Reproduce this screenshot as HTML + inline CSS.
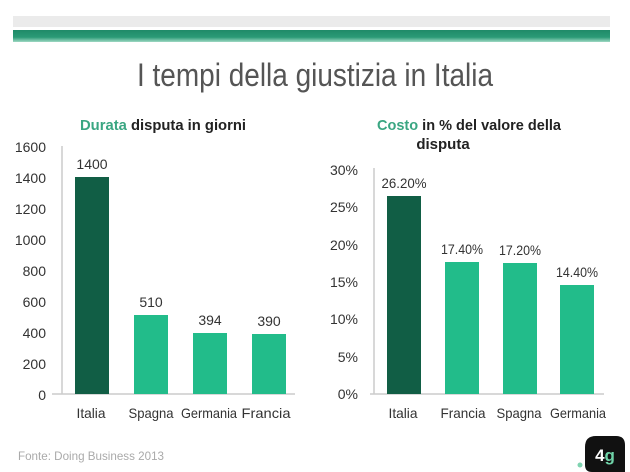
<!DOCTYPE html>
<html><head><meta charset="utf-8"><style>
html,body{margin:0;padding:0;background:#fff}
svg{display:block}
text{font-family:"Liberation Sans Narrow","Liberation Sans",sans-serif}
</style></head><body>
<svg width="630" height="472" viewBox="0 0 630 472" xmlns="http://www.w3.org/2000/svg">
<defs><linearGradient id="g" x1="0" y1="0" x2="0" y2="1"><stop offset="0" stop-color="#1f8a68"/><stop offset="0.6" stop-color="#2a9a76"/><stop offset="1" stop-color="#9fd8c3"/></linearGradient></defs>
<rect x="13" y="16" width="597" height="11" fill="#ebebeb"/>
<rect x="13" y="30" width="597" height="12" fill="url(#g)"/>
<text x="315" y="86" font-size="32" fill="#555" text-anchor="middle" textLength="356" lengthAdjust="spacingAndGlyphs">I tempi della giustizia in Italia</text>
<text x="163" y="130" font-size="15" font-weight="bold" fill="#222" text-anchor="middle" textLength="166" lengthAdjust="spacingAndGlyphs"><tspan fill="#3aa682">Durata</tspan> disputa in giorni</text>
<text x="469" y="130" font-size="15" font-weight="bold" fill="#222" text-anchor="middle" textLength="184" lengthAdjust="spacingAndGlyphs"><tspan fill="#3aa682">Costo</tspan> in % del valore della</text>
<text x="443" y="149" font-size="15" font-weight="bold" fill="#222" text-anchor="middle">disputa</text>
<g font-size="14" fill="#333" text-anchor="end">
<text x="46" y="152">1600</text><text x="46" y="183">1400</text><text x="46" y="214">1200</text><text x="46" y="245">1000</text><text x="46" y="276">800</text><text x="46" y="307">600</text><text x="46" y="338">400</text><text x="46" y="369">200</text><text x="46" y="400">0</text>
<text x="358" y="175">30%</text><text x="358" y="212">25%</text><text x="358" y="250">20%</text><text x="358" y="287">15%</text><text x="358" y="324">10%</text><text x="358" y="362">5%</text><text x="358" y="399">0%</text>
</g>
<g stroke="#ccc" stroke-width="1.5">
<line x1="62" y1="146" x2="62" y2="394"/><line x1="52" y1="394" x2="295" y2="394"/>
<line x1="374" y1="168" x2="374" y2="394"/><line x1="370" y1="394" x2="604" y2="394"/>
</g>
<rect x="75" y="177" width="34" height="217" fill="#115e45"/>
<rect x="134" y="315" width="34" height="79" fill="#22bc8a"/>
<rect x="193" y="333" width="34" height="61" fill="#22bc8a"/>
<rect x="252" y="334" width="34" height="60" fill="#22bc8a"/>
<rect x="387" y="196" width="34" height="198" fill="#115e45"/>
<rect x="445" y="262" width="34" height="132" fill="#22bc8a"/>
<rect x="503" y="263" width="34" height="131" fill="#22bc8a"/>
<rect x="560" y="285" width="34" height="109" fill="#22bc8a"/>
<g font-size="14" fill="#333" text-anchor="middle" lengthAdjust="spacingAndGlyphs">
<text x="92" y="169">1400</text><text x="151" y="307">510</text><text x="210" y="325">394</text><text x="269" y="326">390</text>
<text x="404" y="188" textLength="45" lengthAdjust="spacingAndGlyphs">26.20%</text><text x="462" y="254" textLength="42" lengthAdjust="spacingAndGlyphs">17.40%</text><text x="520" y="255" textLength="42" lengthAdjust="spacingAndGlyphs">17.20%</text><text x="577" y="277" textLength="42" lengthAdjust="spacingAndGlyphs">14.40%</text>
<text x="91" y="418" textLength="29" lengthAdjust="spacingAndGlyphs">Italia</text><text x="151" y="418" textLength="45" lengthAdjust="spacingAndGlyphs">Spagna</text><text x="209" y="418" textLength="56" lengthAdjust="spacingAndGlyphs">Germania</text><text x="266" y="418" textLength="49" lengthAdjust="spacingAndGlyphs">Francia</text>
<text x="403" y="418" textLength="29" lengthAdjust="spacingAndGlyphs">Italia</text><text x="463" y="418" textLength="45" lengthAdjust="spacingAndGlyphs">Francia</text><text x="519" y="418" textLength="45" lengthAdjust="spacingAndGlyphs">Spagna</text><text x="578" y="418" textLength="56" lengthAdjust="spacingAndGlyphs">Germania</text>
</g>
<text x="18" y="460" font-size="12" fill="#aaa" textLength="146" lengthAdjust="spacingAndGlyphs">Fonte:  Doing Business 2013</text>
<path d="M596 436 H616 Q625 436 625 445 V472 H592 Q585 472 585 465 V447 Q585 436 596 436Z" fill="#111"/>
<text x="605" y="461" font-size="17" font-weight="bold" fill="#fff" text-anchor="middle">4<tspan fill="#6fd3a8">g</tspan></text>
<circle cx="580" cy="465" r="2.5" fill="#7fd3b0"/>
</svg>
</body></html>
